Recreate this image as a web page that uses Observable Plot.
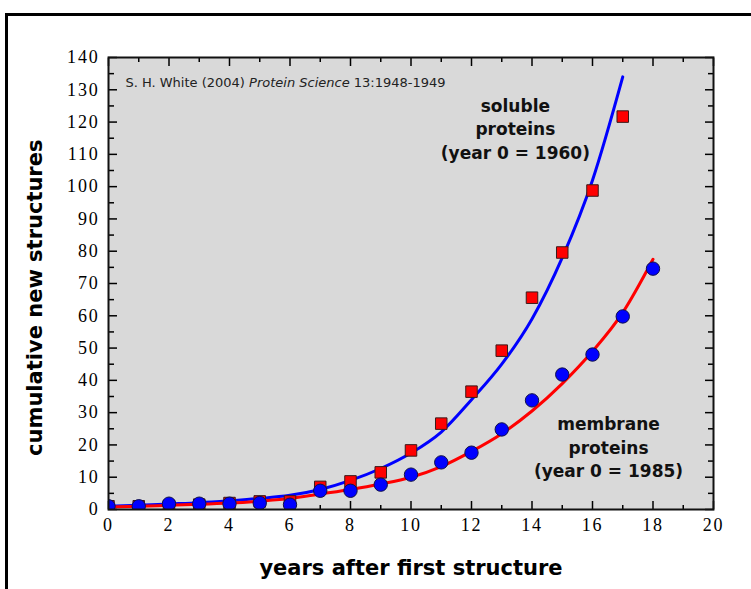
<!DOCTYPE html>
<html><head><meta charset="utf-8">
<script src="https://cdn.jsdelivr.net/npm/d3@7"></script>
<script src="https://cdn.jsdelivr.net/npm/@observablehq/plot@0.6"></script>
<style>
body{margin:0;background:#fff;}
#wrap{position:relative;width:751px;height:589px;overflow:hidden;}
#border{position:absolute;left:5px;top:13px;width:760px;height:600px;border-top:3px solid #000;border-left:3px solid #000;pointer-events:none;}
.ticklbl text{letter-spacing:1.8px;}
</style>
</head><body><div id="wrap"><div id="chart"></div><div id="border"></div></div>
<script>
// soluble proteins (year 0 = 1960): observed cumulative structures
const solubleYears  = [0,1,2,3,4,5,6,7,8,9,10,11,12,13,14,15,16,17];
const solubleCounts = [1,1,1,1.5,2,2.5,2.5,7,8.7,11.5,18.3,26.6,36.5,49.2,65.6,79.6,98.8,121.7];
// membrane proteins (year 0 = 1985)
const membraneYears  = [0,1,2,3,4,5,6,7,8,9,10,11,12,13,14,15,16,17,18];
const membraneCounts = [1,1,1.8,1.8,1.8,2,1.5,5.8,5.8,7.7,10.8,14.6,17.6,24.8,33.8,41.8,48,59.8,74.6];
// fitted curves
const solubleFitYears = [0,1,2,3,4,5,6,7,8,9,10,11,12,13,14,15,16,17];
const solubleFit      = [1,1.3,1.7,2.1,2.7,3.4,4.4,6.2,9,12.7,17.5,24,34,45,59,78,102,134];
const membraneFitYears = [0,1,2,3,4,5,6,7,8,9,10,11,12,13,14,15,16,17,18];
const membraneFit      = [0.8,1,1.3,1.6,2,2.6,3.4,4.8,6.2,7.9,10,13.3,18,23.5,30.5,39,49,61,77.5];
// ticks
const xTicks = [0,2,4,6,8,10,12,14,16,18,20];
const xMinor = [1,3,5,7,9,11,13,15,17,19];
const yTicks = [0,10,20,30,40,50,60,70,80,90,100,110,120,130,140];
const yMinor = [5,15,25,35,45,55,65,75,85,95,105,115,125,135];
// texts
const xLabel = "years after first structure";
const yLabel = "cumulative new structures";
const solubleLabel = "soluble\nproteins\n(year 0 = 1960)";
const membraneLabel = "membrane\nproteins\n(year 0 = 1985)";
const citeParts = ["S. H. White (2004) ", "Protein Science", " 13:1948-1949"];

const sol = solubleYears.map((x,i)=>({x, y: solubleCounts[i]}));
const mem = membraneYears.map((x,i)=>({x, y: membraneCounts[i]}));
const solFit = solubleFitYears.map((x,i)=>({x, y: solubleFit[i]}));
const memFit = membraneFitYears.map((x,i)=>({x, y: membraneFit[i]}));

const sans = "'DejaVu Sans', Verdana, sans-serif";
const serif = "'Liberation Serif', 'Times New Roman', serif";

const chart = Plot.plot({
  width: 751, height: 589,
  marginLeft: 108, marginRight: 38, marginTop: 57, marginBottom: 80,
  style: {background: "transparent", color: "#000", overflow: "visible"},
  x: {domain: [0, 20], label: null},
  y: {domain: [0, 140], label: null},
  marks: [
    Plot.frame({fill: "#d9d9d9", stroke: null}),
    // inward ticks on all four sides
    Plot.axisX(xTicks, {anchor: "bottom", tickSize: -8, fill: "none", strokeWidth: 1.5, label: null}),
    Plot.axisX(xMinor, {anchor: "bottom", tickSize: -4, fill: "none", strokeWidth: 1.5, label: null}),
    Plot.axisX(xTicks, {anchor: "top", tickSize: -8, fill: "none", strokeWidth: 1.5, label: null}),
    Plot.axisX(xMinor, {anchor: "top", tickSize: -4, fill: "none", strokeWidth: 1.5, label: null}),
    Plot.axisY(yTicks, {anchor: "left", tickSize: -9, fill: "none", strokeWidth: 1.5, label: null}),
    Plot.axisY(yMinor, {anchor: "left", tickSize: -6, fill: "none", strokeWidth: 1.5, label: null}),
    Plot.axisY(yTicks, {anchor: "right", tickSize: -9, fill: "none", strokeWidth: 1.5, label: null}),
    Plot.axisY(yMinor, {anchor: "right", tickSize: -6, fill: "none", strokeWidth: 1.5, label: null}),
    // tick labels
    Plot.axisX(xTicks, {anchor: "bottom", tickSize: 0, tickPadding: 9, stroke: "none", fontSize: 18, fontFamily: serif, label: null, className: "ticklbl"}),
    Plot.axisY(yTicks, {anchor: "left", tickSize: 0, tickPadding: 9, stroke: "none", fontSize: 18, fontFamily: serif, label: null, className: "ticklbl"}),
    // fitted curves
    Plot.line(solFit, {x: "x", y: "y", stroke: "#0000ff", strokeWidth: 3, curve: "monotone-x", clip: true}),
    Plot.line(memFit, {x: "x", y: "y", stroke: "#ff0000", strokeWidth: 3, curve: "monotone-x", clip: true}),
    // data
    Plot.dot(sol, {x: "x", y: "y", symbol: "square", r: 6.5, fill: "#ff0000", stroke: "#3a1a1a", strokeWidth: 1, clip: true}),
    Plot.dot(mem, {x: "x", y: "y", symbol: "circle", r: 6.7, fill: "#0000ff", stroke: "#10104a", strokeWidth: 1, clip: true}),
    // annotations
    Plot.text([solubleLabel], {x: 13.45, y: 118.2, text: d => d, fontSize: 17, fontWeight: "bold", fontFamily: sans, lineHeight: 1.38, fill: "#111"}),
    Plot.text([membraneLabel], {x: 16.53, y: 19.6, text: d => d, fontSize: 17, fontWeight: "bold", fontFamily: sans, lineHeight: 1.38, fill: "#111"}),
    Plot.text([citeParts.join("")], {x: 0.56, y: 132.2, text: d => d, textAnchor: "start", fontSize: 13, fontFamily: sans, fill: "#222", className: "cite"}),
    // axis titles
    Plot.text([xLabel], {x: 10, y: -18.3, text: d => d, fontSize: 21, fontWeight: "bold", fontFamily: sans}),
    Plot.text([yLabel], {x: -2.41, y: 65.6, rotate: -90, text: d => d, fontSize: 21, fontWeight: "bold", fontFamily: sans}),
    Plot.frame({stroke: "#111", strokeWidth: 2})
  ]
});
document.getElementById("chart").appendChild(chart);

// italicize the journal name in the citation
const citeText = chart.querySelector(".cite text");
if (citeText) {
  citeText.textContent = "";
  citeParts.forEach((p, i) => {
    const t = document.createElementNS("http://www.w3.org/2000/svg", "tspan");
    t.textContent = p;
    if (i === 1) t.setAttribute("font-style", "italic");
    citeText.appendChild(t);
  });
}
</script>
</body></html>
